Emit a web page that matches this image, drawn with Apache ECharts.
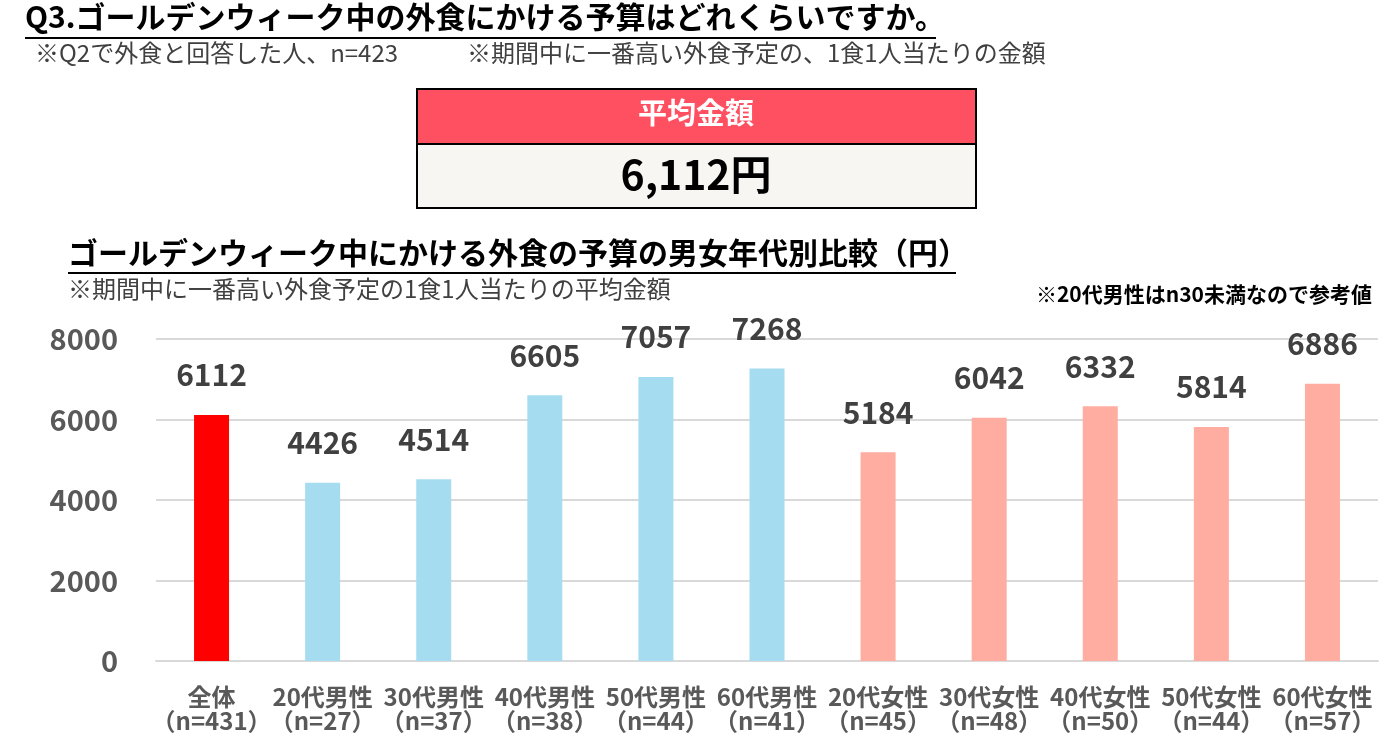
<!DOCTYPE html>
<html>
<head>
<meta charset="utf-8">
<script src="https://cdn.jsdelivr.net/npm/echarts@6/dist/echarts.min.js"></script>
<style>
html,body{margin:0;padding:0;background:#fff;}
#main{width:1400px;height:745px;}
</style>
</head>
<body>
<div id="main"></div>
<script>
// カテゴリ（男女年代別）
var categories = ['全体', '20代男性', '30代男性', '40代男性', '50代男性', '60代男性',
    '20代女性', '30代女性', '40代女性', '50代女性', '60代女性'];
var sampleSizes = [431, 27, 37, 38, 44, 41, 45, 48, 50, 44, 57];
// 予算（円）
var budgets = [6112, 4426, 4514, 6605, 7057, 7268, 5184, 6042, 6332, 5814, 6886];
// 0:全体 1:男性 2:女性
var groups = [0, 1, 1, 1, 1, 1, 2, 2, 2, 2, 2];
var yTicks = [0, 2000, 4000, 6000, 8000];
var averageText = '6,112円';

var groupColors = ['#FF0000', '#A6DCF0', '#FFADA1'];
var font = '"Noto Sans CJK JP", "Noto Sans", sans-serif';

var labels = categories.map(function (c, i) {
    return c + '\n（n=' + sampleSizes[i] + '）';
});

var myChart = echarts.init(document.getElementById('main'));

var option = {
    backgroundColor: '#fff',
    textStyle: {fontFamily: font},
    grid: {left: 156, right: 22, top: 339, bottom: 84},
    xAxis: {
        type: 'category',
        data: labels,
        axisLine: {show: true, lineStyle: {color: '#D9D9D9', width: 2}},
        axisTick: {show: false},
        axisLabel: {
            interval: 0,
            margin: 24,
            color: '#595959',
            fontWeight: 'bold',
            fontSize: 24,
            lineHeight: 24,
            fontFamily: font
        }
    },
    yAxis: {
        type: 'value',
        min: yTicks[0],
        max: yTicks[yTicks.length - 1],
        interval: 2000,
        axisLine: {show: false},
        axisTick: {show: false},
        splitLine: {lineStyle: {color: '#D9D9D9', width: 2}},
        axisLabel: {
            margin: 38,
            color: '#595959',
            fontWeight: 'bold',
            fontSize: 29,
            fontFamily: font,
            formatter: function (v) { return String(v); }
        }
    },
    series: [{
        type: 'bar',
        barWidth: 35,
        data: budgets.map(function (v, i) {
            return {value: v, itemStyle: {color: groupColors[groups[i]]}};
        }),
        label: {
            show: true,
            position: 'top',
            distance: 25,
            color: '#404040',
            fontWeight: 'bold',
            fontSize: 30,
            fontFamily: font
        }
    }],
    graphic: [
        // 上部タイトル
        {type: 'text', left: 25, top: 2, style: {
            text: 'Q3.ゴールデンウィーク中の外食にかける予算はどれくらいですか。',
            font: 'bold 30px ' + font, fill: '#000'}},
        {type: 'line', shape: {x1: 25, y1: 38, x2: 936, y2: 38},
            style: {stroke: '#000', lineWidth: 2}},
        {type: 'text', left: 35, top: 41, style: {
            text: '※Q2で外食と回答した人、n=423',
            font: '24px ' + font, fill: '#404040'}},
        {type: 'text', left: 467, top: 41, style: {
            text: '※期間中に一番高い外食予定の、1食1人当たりの金額',
            font: '24px ' + font, fill: '#404040'}},

        // 平均金額ボックス
        {type: 'rect', shape: {x: 417, y: 89, width: 559, height: 55},
            style: {fill: '#FF5061', stroke: '#000', lineWidth: 2}},
        {type: 'rect', shape: {x: 417, y: 144, width: 559, height: 64},
            style: {fill: '#F7F6F3', stroke: '#000', lineWidth: 2}},
        {type: 'text', x: 696, y: 113, style: {
            text: '平均金額', font: 'bold 29px ' + font, fill: '#fff',
            textAlign: 'center', textVerticalAlign: 'middle'}},
        {type: 'text', x: 696, y: 174, style: {
            text: averageText, font: 'bold 41px ' + font, fill: '#000',
            textAlign: 'center', textVerticalAlign: 'middle'}},

        // グラフタイトル
        {type: 'text', left: 68, top: 238, style: {
            text: 'ゴールデンウィーク中にかける外食の予算の男女年代別比較（円）',
            font: 'bold 30px ' + font, fill: '#000'}},
        {type: 'line', shape: {x1: 68, y1: 273, x2: 956, y2: 273},
            style: {stroke: '#000', lineWidth: 2}},
        {type: 'text', left: 68, top: 277, style: {
            text: '※期間中に一番高い外食予定の1食1人当たりの平均金額',
            font: '24px ' + font, fill: '#404040'}},
        {type: 'text', right: 28, top: 284, style: {
            text: '※20代男性はn30未満なので参考値',
            font: 'bold 21px ' + font, fill: '#000'}}
    ]
};

myChart.setOption(option);
</script>
</body>
</html>
